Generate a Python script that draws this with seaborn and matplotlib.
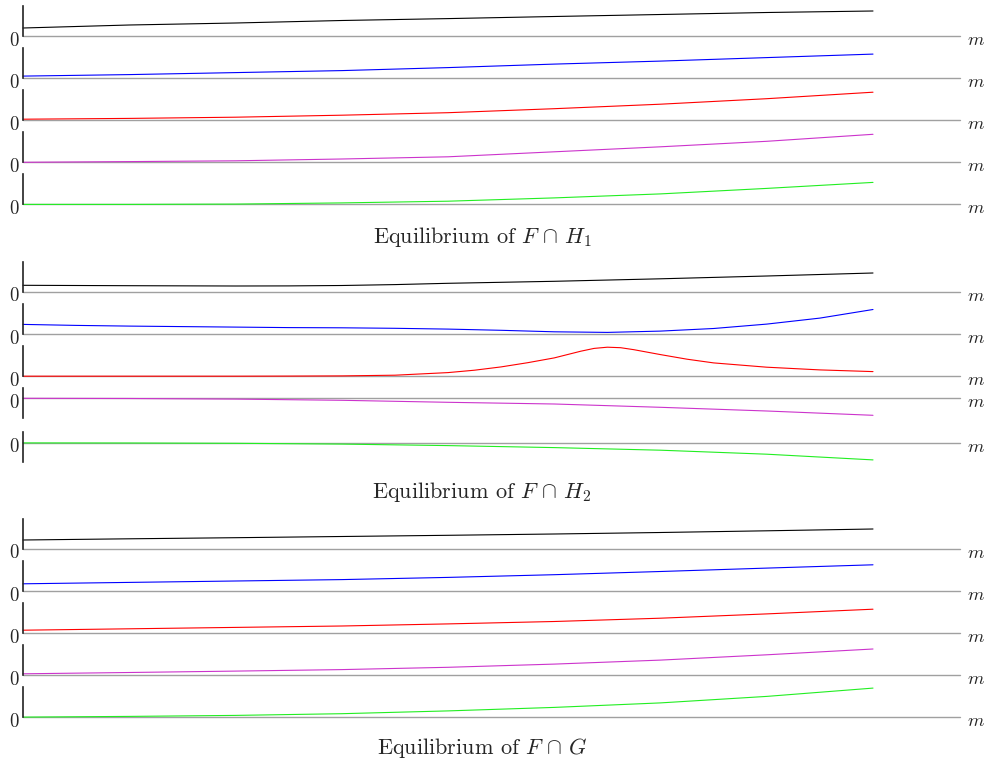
'''
Equilibrium strips of F ∩ H1, F ∩ H2 and F ∩ G
'''

import matplotlib
matplotlib.use('Agg')
import matplotlib.pyplot as plt
import matplotlib.transforms as mtransforms
import seaborn as sns

sns.set_style('white')
plt.rcParams['mathtext.fontset'] = 'cm'

# positions along m where the curves were read (0 = left axis, 1 = end of curve)
m9 = [0, 0.125, 0.25, 0.375, 0.5, 0.625, 0.75, 0.875, 1.0]
m17 = [0, 0.0625, 0.125, 0.1875, 0.25, 0.3125, 0.375, 0.4375, 0.5,
       0.5625, 0.625, 0.6875, 0.75, 0.8125, 0.875, 0.9375, 1.0]
m_bump = [0, 0.0625, 0.125, 0.1875, 0.25, 0.3125, 0.375, 0.4375, 0.5,
          0.53125, 0.5625, 0.59375, 0.625, 0.65625, 0.671875, 0.6875,
          0.703125, 0.71875, 0.75, 0.78125, 0.8125, 0.875, 0.9375, 1.0]
m_black2 = [0, 0.125, 0.25, 0.3125, 0.375, 0.4375, 0.5, 0.625, 0.75, 0.875, 1.0]

colors = ['black', '#0000ff', '#ff0000', '#cc33cc', '#22ee22']
titles = [r'Equilibrium of $F\,\cap\,H_1$',
          r'Equilibrium of $F\,\cap\,H_2$',
          r'Equilibrium of $F\,\cap\,G$']

# Equilibrium of F ∩ H1 (heights above each strip's zero line)
h1_black = [8, 11, 13, 15.5, 17.4, 19.5, 21.5, 23.5, 25]
h1_blue = [2, 3.5, 5.5, 7.5, 10.5, 14, 17, 20.5, 24]
h1_red = [1, 1.8, 3, 5, 7.5, 11.5, 16, 21.5, 28]
h1_magenta = [0, 0.7, 1.5, 3.3, 5.5, 10.5, 15.5, 21, 28]
h1_green = [0, 0, 0.3, 1.5, 3.2, 6.5, 10.5, 16, 22]

# Equilibrium of F ∩ H2
h2_black = [6.7, 6.3, 6, 6.1, 6.5, 7.4, 8.7, 10.7, 13.2, 16, 19]
h2_blue = [9.7, 8.7, 8, 7.5, 7, 6.5, 6.3, 5.8, 5,
           3.8, 2.3, 1.7, 3, 5.6, 10, 16, 24.6]
h2_red = [0, 0, 0, 0, 0, 0.1, 0.3, 1, 3.6,
          6, 9.3, 13.5, 18.3, 25, 27.8, 29,
          28.5, 26.5, 21.6, 17, 13.3, 9, 6.3, 4.6]
h2_magenta = [0, -0.2, -0.8, -2, -4, -5.7, -9, -12.7, -17]
h2_green = [0, -0.1, -0.4, -1.2, -2.7, -4.7, -7.3, -11.3, -17]

# Equilibrium of F ∩ G
g_black = [9, 10.2, 11.3, 12.5, 13.7, 15, 16.5, 18.2, 20]
g_blue = [7.3, 8.7, 10.1, 11.5, 13.7, 16.4, 19.6, 23, 26.3]
g_red = [3, 4.4, 5.8, 7.2, 9.3, 11.7, 15, 19.3, 24]
g_magenta = [1.5, 2.8, 4.2, 5.7, 8, 11.2, 15.2, 20.5, 26.3]
g_green = [0.3, 1, 2, 3.7, 6.5, 10, 14.5, 21, 29.3]

groups = [
    [(m9, h1_black), (m9, h1_blue), (m9, h1_red), (m9, h1_magenta), (m9, h1_green)],
    [(m_black2, h2_black), (m17, h2_blue), (m_bump, h2_red), (m9, h2_magenta), (m9, h2_green)],
    [(m9, g_black), (m9, g_blue), (m9, g_red), (m9, g_magenta), (m9, g_green)],
]

# layout in pixels
W, H = 990, 767
x0, x1, xend = 23, 873, 960
group_top = [6, 262, 519]
pitch = 42.1
extents = [
    [(30, 0)] * 5,
    [(30, 0), (30, 0), (30, 0), (10, 20), (11, 19)],
    [(30, 0)] * 5,
]
title_y = [237, 492, 748]

fig = plt.figure(figsize=(W / 100, H / 100), dpi=100)

for g, group in enumerate(groups):
    for k, (xs, ys) in enumerate(group):
        up, down = extents[g][k]
        top = group_top[g] + k * pitch
        if k == 4 and g == 1:
            top += 1.5
        ax = fig.add_axes([x0 / W, 1 - (top + up + down) / H,
                           (xend - x0) / W, (up + down) / H])
        ax.axhline(0, color='#a0a0a0', lw=1, zorder=1)
        sns.lineplot(x=xs, y=ys, color=colors[k], lw=0.8, ax=ax, zorder=2)
        for ln in ax.lines:
            ln.set_clip_on(False)
        ax.set_xlim(0, (xend - x0) / (x1 - x0))
        ax.set_ylim(-down, up)
        ax.set_xticks([])
        ax.set_yticks([0], ['$0$'])
        ax.tick_params(axis='y', length=0, pad=2.5, labelsize=13.5)
        for lab in ax.get_yticklabels():
            lab.set_transform(lab.get_transform() + mtransforms.ScaledTranslation(0, -2 / 100, fig.dpi_scale_trans))
        for side in ['top', 'right', 'bottom']:
            ax.spines[side].set_visible(False)
        ax.spines['left'].set_color('#222222')
        ax.spines['left'].set_linewidth(1.2)
        ax.set_xlabel('')
        ax.set_ylabel('')
        m_trans = mtransforms.offset_copy(ax.get_yaxis_transform(), fig=fig,
                                          y=-3.5, units='dots')
        ax.text(1.008, 0, '$m$', transform=m_trans,
                ha='left', va='center', fontsize=13.5)
    fig.text(482 / W, 1 - title_y[g] / H, titles[g], family='cmr10',
             ha='center', va='center', fontsize=16)

plt.savefig('out.png', dpi=100)
